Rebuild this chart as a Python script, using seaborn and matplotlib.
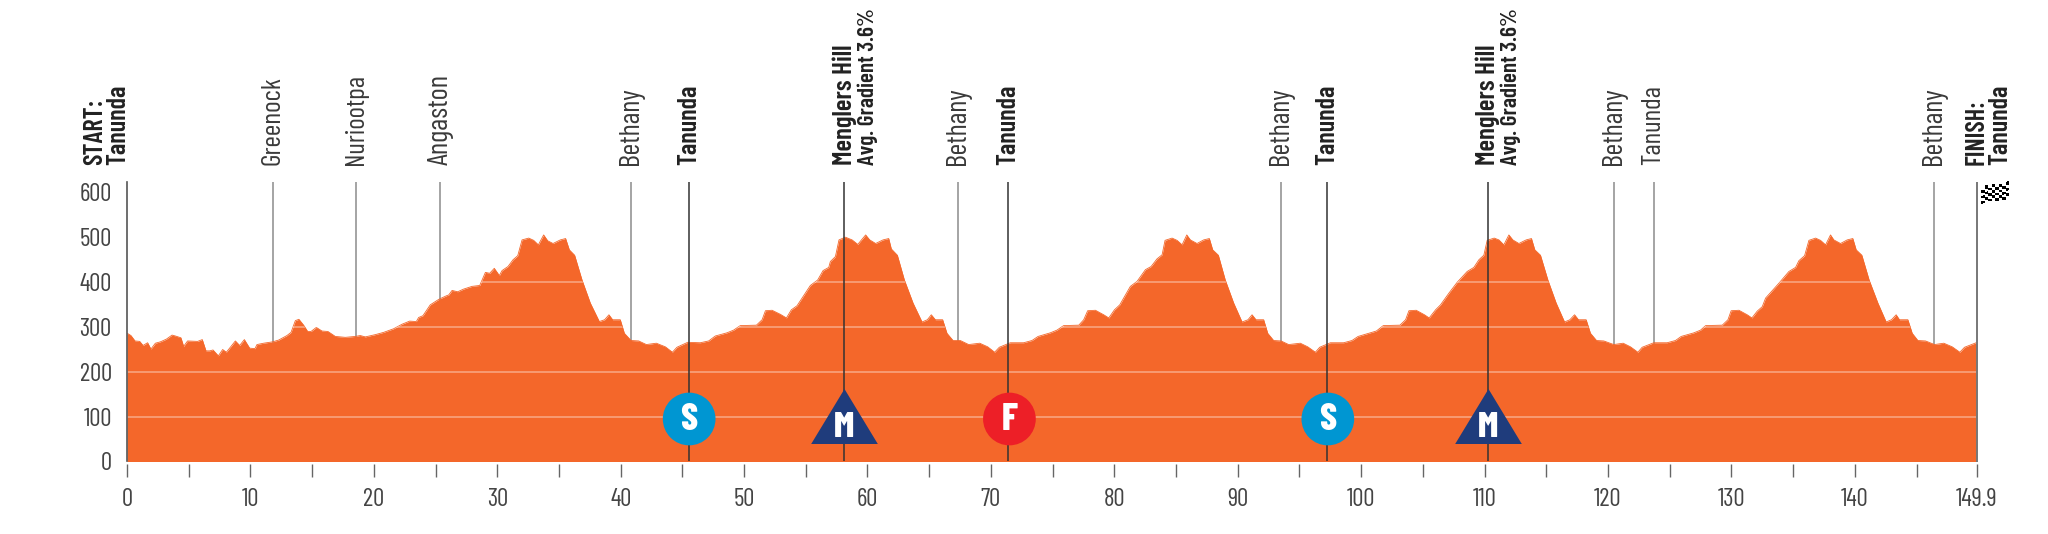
import numpy as np
import pandas as pd
import matplotlib
matplotlib.use('Agg')
import matplotlib.pyplot as plt
from matplotlib.path import Path
import seaborn as sns

# Stage profile
km = [0, 0.08, 0.32, 0.65, 1.03, 1.30, 1.67, 1.94, 2.30, 2.70, 3.19, 3.65, 3.92, 4.37, 4.59, 4.91, 5.72, 6.10, 6.40, 6.70,
      6.97, 7.40, 7.75, 8.05, 8.78, 9.13, 9.51, 9.94, 10.37, 10.53, 11.07, 11.80, 12.29, 12.96, 13.29, 13.64, 13.93, 14.31,
      14.64, 14.91, 15.34, 15.80, 16.28, 16.88, 17.69, 18.50, 18.90, 19.31, 20.12, 20.79, 21.60, 22.28, 22.90, 23.44, 23.63,
      23.98, 24.57, 25.25, 25.87, 26.07, 26.34, 26.79, 27.28, 27.96, 28.58, 29.04, 29.39, 29.76, 30.17, 30.39, 30.87, 31.28,
      31.66, 32.01, 32.55, 32.95, 33.33, 33.76, 34.09, 34.52, 35.11, 35.54, 35.84, 36.27, 36.87, 37.54, 38.27, 38.70, 39.05,
      39.35, 39.97, 40.30, 40.84, 41.46, 42.08, 42.89, 43.62, 44.19, 44.56, 45.43, 46.45, 47.13, 47.67, 48.61, 49.15, 49.69,
      51.00, 51.46, 51.73, 52.27, 52.94, 53.43, 53.83, 54.29, 55.37, 55.96, 56.40, 56.86, 56.99, 57.40, 57.69, 58.21, 58.75,
      59.21, 59.85, 60.18, 60.66, 61.26, 61.72, 61.93, 62.42, 62.99, 63.69, 64.42, 64.85, 65.17, 65.50, 66.09, 66.44, 66.93,
      67.52, 68.20, 69.09, 69.74, 70.30, 70.68, 71.57, 72.65, 73.33, 73.82, 74.81, 75.35, 75.89, 77.12, 77.52, 77.84, 78.47,
      79.14, 79.55, 80.01, 80.44, 81.30, 81.84, 82.52, 82.98, 83.46, 83.87, 84.11, 84.68, 85.08, 85.49, 85.87, 86.16, 86.70,
      87.24, 87.70, 87.97, 88.43, 88.99, 89.67, 90.35, 90.83, 91.16, 91.48, 92.10, 92.43, 92.91, 93.51, 94.13, 95.07, 95.67,
      96.29, 96.64, 97.50, 98.58, 99.26, 99.75, 101.23, 101.79, 103.14, 103.60, 103.87, 104.46, 105.13, 105.51, 106.03,
      106.43, 107.11, 107.78, 108.59, 109.13, 109.54, 109.94, 110.21, 110.78, 111.16, 111.56, 111.97, 112.29, 112.78, 113.37,
      113.80, 114.07, 114.53, 115.13, 115.80, 116.48, 116.91, 117.29, 117.61, 118.23, 118.58, 119.07, 119.66, 120.47, 121.23,
      121.82, 122.42, 122.77, 123.71, 124.79, 125.47, 125.93, 126.96, 127.50, 127.91, 129.26, 129.72, 129.98, 130.61, 131.28,
      131.66, 132.09, 132.50, 132.77, 133.85, 134.66, 135.20, 135.47, 135.93, 136.28, 136.82, 137.22, 137.63, 138.03, 138.30,
      138.84, 139.38, 139.84, 140.11, 140.57, 141.16, 141.87, 142.54, 142.97, 143.35, 143.62, 144.30, 144.65, 145.11, 145.73,
      146.46, 147.21, 147.89, 148.51, 148.89, 149.83, 149.9]
altitude = [285, 285, 281, 269, 268, 259, 265, 251, 264, 267, 273, 282, 280, 276, 257, 269, 268, 272, 247, 247,
            249, 236, 250, 244, 269, 259, 272, 253, 252, 261, 264, 267, 271, 281, 288, 314, 317, 304,
            290, 290, 299, 291, 290, 279, 277, 279, 281, 278, 283, 288, 296, 306, 313, 312, 321,
            325, 349, 361, 369, 371, 381, 378, 384, 390, 392, 421, 419, 430, 414, 425, 434, 449,
            458, 493, 497, 492, 482, 504, 491, 485, 493, 496, 471, 459, 404, 353, 312, 316, 327,
            316, 316, 286, 270, 269, 261, 264, 256, 244, 255, 266, 265, 269, 280, 287, 293, 303,
            304, 316, 336, 337, 328, 320, 338, 347, 392, 404, 425, 432, 445, 456, 493, 499, 493,
            483, 504, 493, 485, 493, 496, 473, 459, 404, 353, 311, 316, 327, 316, 316, 286, 270,
            270, 261, 264, 256, 244, 255, 265, 265, 270, 279, 287, 293, 303, 304, 316, 336, 337,
            327, 320, 338, 349, 390, 401, 427, 434, 451, 460, 492, 497, 492, 482, 504, 493, 485,
            493, 496, 471, 459, 404, 353, 311, 316, 327, 316, 316, 286, 270, 269, 261, 264, 256,
            244, 255, 265, 265, 270, 279, 291, 303, 304, 316, 336, 337, 327, 320, 338,
            349, 375, 399, 423, 432, 449, 459, 492, 497, 493, 482, 504, 493, 485, 493,
            496, 471, 459, 404, 353, 311, 316, 327, 316, 316, 286, 270, 269, 261, 264,
            256, 244, 255, 265, 265, 270, 279, 287, 293, 303, 304, 316, 336, 337, 327,
            320, 335, 345, 364, 397, 423, 432, 447, 458, 492, 497, 492, 482, 504, 493,
            485, 493, 496, 471, 459, 404, 353, 311, 316, 327, 316, 316, 286, 270, 269,
            261, 264, 256, 244, 255, 265, 265]

# Places along the route
minor_places = ['Greenock', 'Nuriootpa', 'Angaston', 'Bethany', 'Bethany', 'Bethany', 'Bethany', 'Tanunda', 'Bethany']
minor_km = [11.81, 18.56, 25.39, 40.87, 67.37, 93.54, 120.50, 123.69, 146.44]
sprint_km = [45.52, 71.42, 97.27]
climb_km = [58.13, 110.27]

# Length of each label in pixels, measured on the picture
label_px = {'Greenock': 89, 'Nuriootpa': 91, 'Angaston': 91, 'Bethany': 78, 'Tanunda': 80,
            'Menglers Hill': 120, 'Avg. Gradient 3.6%': 157, 'START:': 66, 'FINISH:': 66}

# Symbols on the profile
circle_km = [45.55, 71.5, 97.3]
circle_letters = ['S', 'F', 'S']
circle_palette = {'S': '#0096d2', 'F': '#ed1f27'}
circle_y = 96
triangle_y = 103
triangle_letter_y = 77
circle_letter_y = 94

# Axis ticks
y_ticks = [4, 100, 200, 300, 400, 500, 600]
y_labels = ['0', '100', '200', '300', '400', '500', '600']
grid_y = [100, 200, 300, 400]
x_ticks = [0, 10, 20, 30, 40, 50, 60, 70, 80, 90, 100, 110, 120, 130, 140, 149.9]
x_labels = ['0', '10', '20', '30', '40', '50', '60', '70', '80', '90', '100', '110', '120', '130', '140', '149.9']
small_ticks = list(range(0, 150, 5)) + [149.9]

ORANGE = '#f4672a'
GREY = '#444444'
W, H = 2048, 534

sns.set_theme(style='white')
plt.rcParams['font.family'] = ['Saira Extra Condensed', 'Barlow Condensed', 'Liberation Sans', 'DejaVu Sans']

fig = plt.figure(figsize=(W / 100, H / 100), dpi=100)
ax = fig.add_axes([127 / W, 1 - 460.5 / H, 1850 / W, 278.8 / H])

df = pd.DataFrame({'km': km, 'altitude': altitude})

# Thin lines stop behind the profile
ax.vlines(minor_km, 0, 622, color='#8c8c8c', lw=1.1, zorder=1)

fill = ax.fill_between(df['km'], 0, df['altitude'], color=ORANGE, lw=0, zorder=2)
sns.lineplot(data=df, x='km', y='altitude', color=ORANGE, lw=0.6, ax=ax, zorder=2)

# Grid only shows inside the profile
for g in grid_y:
    line = ax.axhline(g, color='white', alpha=0.4, lw=1.2, zorder=3)
    line.set_clip_path(fill.get_paths()[0], transform=ax.transData)

ax.vlines(sprint_km + climb_km, 0, 622, color='#333333', lw=1.1, zorder=4)
ax.vlines([149.9], 0, 622, color='#777777', lw=1.4, zorder=4, clip_on=False)

ax.set_xlim(0, 149.9)
ax.set_ylim(4, 622)
ax.set_xticks(x_ticks)
ax.set_xticklabels(x_labels, fontsize=18, color=GREY)
ax.set_yticks(y_ticks)
ax.set_yticklabels(y_labels, fontsize=18, color=GREY)
ax.tick_params(axis='x', length=0, pad=20)
ax.tick_params(axis='y', length=0, pad=11)
ax.set_xlabel('')
ax.set_ylabel('')

for side in ['top', 'right', 'bottom']:
    ax.spines[side].set_visible(False)
ax.spines['left'].set_color('#555555')
ax.spines['left'].set_linewidth(1.2)
ax.spines['left'].set_zorder(5)

# Ticks sit a little below the profile
ax.vlines(small_ticks, -0.059, -0.012, color='#666666', lw=1.0, clip_on=False,
          transform=ax.get_xaxis_transform())

renderer = fig.canvas.get_renderer()


def place_label(text, x, dx=0, bold=False, color='#3a3a3a'):
    label = ax.annotate(text, xy=(x, 1), xycoords=('data', 'axes fraction'), xytext=(dx, 12),
                        textcoords='offset points', rotation=90, ha='center', va='bottom',
                        fontsize=22, fontweight='semibold' if bold else 'normal', color=color)
    # Font size follows the length the label has on the picture
    length = label.get_window_extent(renderer).height
    label.set_fontsize(22 * label_px[text] / length)


for name, x in zip(minor_places, minor_km):
    place_label(name, x)
for x in sprint_km:
    place_label('Tanunda', x, bold=True, color='#222222')
for x in climb_km:
    place_label('Menglers Hill', x, bold=True, color='#222222')
    place_label('Avg. Gradient 3.6%', x, dx=16.5, bold=True, color='#222222')

place_label('START:', 0, dx=-23, bold=True, color='#222222')
place_label('Tanunda', 0, dx=-6, bold=True, color='#222222')
place_label('FINISH:', 149.9, dx=0, bold=True, color='#222222')
place_label('Tanunda', 149.9, dx=17, bold=True, color='#222222')

# Sprint and finish circles, climb triangles
sns.scatterplot(x=circle_km, y=[circle_y] * len(circle_km), hue=circle_letters, palette=circle_palette,
                legend=False, s=1440, linewidth=0, ax=ax, zorder=6)
triangle = Path([(-1, -0.825), (1, -0.825), (0, 0.825), (-1, -0.825)], closed=True)
ax.scatter(climb_km, [triangle_y] * len(climb_km), marker=triangle, s=2304, color='#1f3c7c', lw=0, zorder=6)

for x, letter in zip(circle_km, circle_letters):
    ax.text(x, circle_letter_y, letter, color='white', fontsize=27, fontweight='heavy',
            ha='center', va='center', zorder=7)
for x in climb_km:
    ax.text(x, triangle_letter_y, 'M', color='white', fontsize=26, fontweight='heavy',
            ha='center', va='center', zorder=7)

# Checkered flag beside the finish line
flag = fig.add_axes([1981 / W, 1 - 205 / H, 28 / W, 25 / H])
cols, rows = np.meshgrid(np.linspace(0, 1, 9), np.linspace(0, 1, 7))
wave = rows * 0.72 + cols * 0.28 + 0.04 * np.sin(cols * 6.3)
checks = np.indices((6, 8)).sum(axis=0) % 2
flag.pcolormesh(cols, wave, checks, cmap='gray', shading='flat', edgecolors='none')
flag.set_xlim(0, 1)
flag.set_ylim(-0.05, 1.05)
flag.axis('off')

fig.savefig('out.png', dpi=100)
